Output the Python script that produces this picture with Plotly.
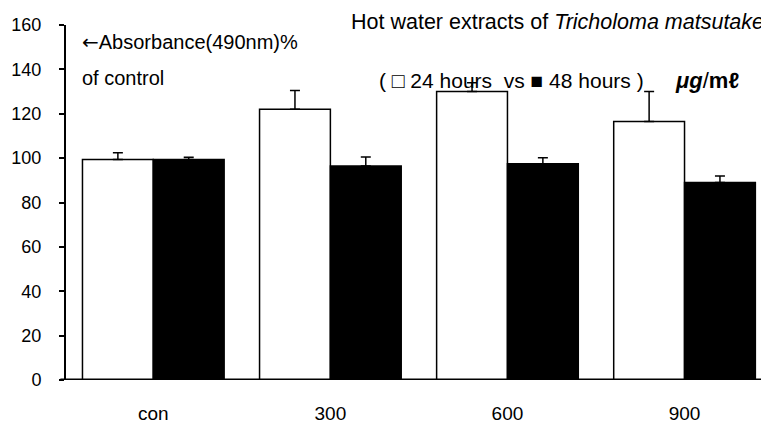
import plotly.graph_objects as go

categories = ["con", "300", "600", "900"]
h24 = [99.4, 122, 130, 116.5]
h24_err = [3, 8.5, 4, 13.5]
h48 = [99.4, 96.5, 97.5, 89]
h48_err = [1, 4, 2.7, 3]
yticks = [0, 20, 40, 60, 80, 100, 120, 140, 160]

FONT = "Liberation Sans, Arial, sans-serif"

fig = go.Figure()
fig.add_bar(x=categories, y=h24, name="24 hours",
            marker=dict(color="white", line=dict(color="black", width=1.5)),
            error_y=dict(type="data", array=h24_err, arrayminus=[0]*4, symmetric=False,
                         color="black", thickness=1.5, width=5))
fig.add_bar(x=categories, y=h48, name="48 hours",
            marker=dict(color="black", line=dict(color="black", width=1.5)),
            error_y=dict(type="data", array=h48_err, arrayminus=[0]*4, symmetric=False,
                         color="black", thickness=1.5, width=5))

fig.update_layout(
    width=761, height=436,
    margin=dict(l=58, r=0, t=17, b=64),
    paper_bgcolor="white", plot_bgcolor="white",
    barmode="group", bargap=0.2, bargroupgap=0,
    showlegend=False,
    font=dict(family=FONT, size=18, color="black"),
    xaxis=dict(range=[-0.493, 3.477], showline=False, ticks="", showgrid=False, automargin=False,
               tickfont=dict(size=19), ticklabelstandoff=20),
    yaxis=dict(range=[0, 160], tickvals=yticks, showline=True, linecolor="black",
               linewidth=2, ticks="outside", ticklen=5, tickwidth=2, tickcolor="black",
               showgrid=False, zeroline=False, tickfont=dict(size=18), automargin=False,
               ticklabelstandoff=14),
)
fig.add_shape(type="line", xref="paper", yref="y", x0=-0.008, x1=1, y0=0, y1=0,
              line=dict(color="black", width=3))

fig.add_annotation(xref="paper", yref="paper", x=0.02, y=0.952, xanchor="left", yanchor="middle",
                   text="<span style='font-family:DejaVu Sans'>←</span>Absorbance(490nm)%",
                   showarrow=False, font=dict(size=20))
fig.add_annotation(xref="paper", yref="paper", x=0.02, y=0.851, xanchor="left", yanchor="middle",
                   text="of control", showarrow=False, font=dict(size=20))
fig.add_annotation(xref="paper", yref="paper", x=0.996, y=1.008, xanchor="right", yanchor="middle",
                   text="Hot water extracts of <i>Tricholoma matsutake</i>", showarrow=False,
                   font=dict(size=21.5))
fig.add_annotation(xref="paper", yref="paper", x=0.443, y=0.845, xanchor="left", yanchor="middle",
                   text="( □ 24 hours  vs ■ 48 hours )", showarrow=False, font=dict(size=21))
fig.add_annotation(xref="paper", yref="paper", x=0.864, y=0.845, xanchor="left", yanchor="middle",
                   text="<b><i>μg</i></b>/<b>mℓ</b>", showarrow=False, font=dict(size=22))

fig.write_html("out.html")
